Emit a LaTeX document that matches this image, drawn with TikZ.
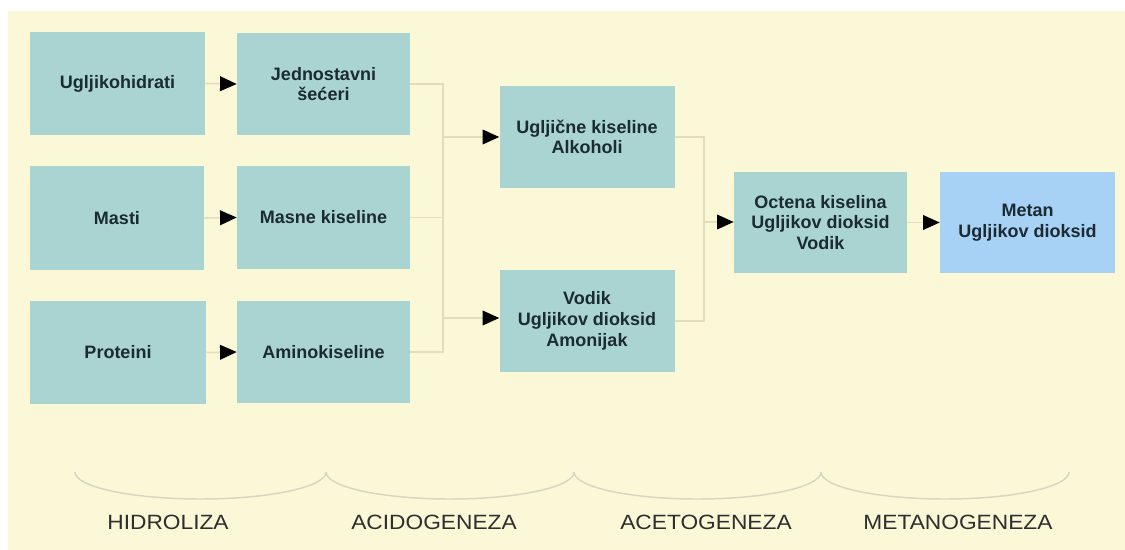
\documentclass[tikz,border=0pt]{standalone}
\usepackage{fontspec}
\setmainfont{Liberation Sans}
\newfontfamily\labfont[FakeStretch=1.1]{Liberation Sans}
\usetikzlibrary{arrows.meta}
\definecolor{bgyellow}{HTML}{FAF8D6}
\definecolor{boxteal}{HTML}{A9D4D2}
\definecolor{boxblue}{HTML}{A7D2F5}
\definecolor{txtdark}{HTML}{1C2A32}
\definecolor{linefaint}{HTML}{E2DEBA}
\definecolor{arcgray}{HTML}{D8D6C0}
\definecolor{labgray}{HTML}{2E2E2E}
\begin{document}
\begin{tikzpicture}[x=0.75pt,y=-0.75pt,
  procbox/.style={fill=boxteal,draw=none,inner sep=0pt,align=center,
    font=\fontsize{13.5}{15.5}\selectfont\bfseries,text=txtdark},
  conn/.style={draw=linefaint,line width=1.2pt},
  arr/.style={conn,-{Triangle[length=12.5pt,width=11pt,black]}},
  phase/.style={draw=arcgray,line width=1.1pt},
  phaselab/.style={font=\labfont\fontsize{15.5}{18}\selectfont,text=labgray,anchor=base}]
\useasboundingbox (0,0) rectangle (1125,550);
\fill[white] (0,0) rectangle (1125,550);
\fill[bgyellow] (8,11) rectangle (1125,550);
% boxes
\node[procbox,minimum width=175*0.75pt,minimum height=103*0.75pt] (a) at (117.5,83.5) {Ugljikohidrati};
\node[procbox,minimum width=173*0.75pt,minimum height=102*0.75pt] (b) at (323.5,84) {Jednostavni\\šećeri};
\node[procbox,minimum width=174*0.75pt,minimum height=104*0.75pt] (c) at (117,218) {Masti};
\node[procbox,minimum width=173*0.75pt,minimum height=103*0.75pt] (d) at (323.5,217.5) {Masne kiseline};
\node[procbox,minimum width=176*0.75pt,minimum height=103*0.75pt] (e) at (118,352.5) {Proteini};
\node[procbox,minimum width=173*0.75pt,minimum height=102*0.75pt] (f) at (323.5,352) {Aminokiseline};
\node[procbox,minimum width=175*0.75pt,minimum height=102*0.75pt] (g) at (587,137) {Ugljične kiseline\\Alkoholi};
\node[procbox,minimum width=175*0.75pt,minimum height=102*0.75pt] (h) at (587,321) {Vodik\\Ugljikov dioksid\\Amonijak};
\node[procbox,minimum width=173*0.75pt,minimum height=101*0.75pt] (i) at (820.5,222.5) {Octena kiselina\\Ugljikov dioksid\\Vodik};
\node[procbox,fill=boxblue,minimum width=175*0.75pt,minimum height=101*0.75pt] (j) at (1027.5,222.5) {Metan\\Ugljikov dioksid};
% junction coordinates
\coordinate (j1) at (443,137);
\coordinate (j2) at (443,318);
\coordinate (k1) at (704,222);
% arrows between first columns
\draw[arr] (a.east) -- (b.west);
\draw[arr] (c.east) -- (d.west);
\draw[arr] (e.east) -- (f.west);
% acidogenesis merge
\draw[conn] (b.east) -| (j1);
\draw[conn] (f.east) -| (j2);
\draw[conn] (d.east) -- (d.east -| j1);
\draw[conn] (j1) -- (j2);
\draw[arr] (j1) -- (g.west |- j1);
\draw[arr] (j2) -- (h.west |- j2);
% acetogenesis merge
\draw[conn] (g.east) -| (k1);
\draw[conn] (h.east) -| (k1);
\draw[arr] (k1) -- (i.west |- k1);
\draw[arr] (i.east) -- (j.west);
% phase arcs
\draw[phase] (75,472) arc[start angle=180,end angle=0,x radius=125.5,y radius=27];
\draw[phase] (326,472) arc[start angle=180,end angle=0,x radius=124,y radius=27];
\draw[phase] (574,472) arc[start angle=180,end angle=0,x radius=123.5,y radius=27];
\draw[phase] (821,472) arc[start angle=180,end angle=0,x radius=124,y radius=27];
% phase labels
\node[phaselab] (l1) at (168,529) {HIDROLIZA};
\node[phaselab] (l2) at (434,529) {ACIDOGENEZA};
\node[phaselab] (l3) at (706,529) {ACETOGENEZA};
\node[phaselab] (l4) at (958,529) {METANOGENEZA};
\end{tikzpicture}
\end{document}
